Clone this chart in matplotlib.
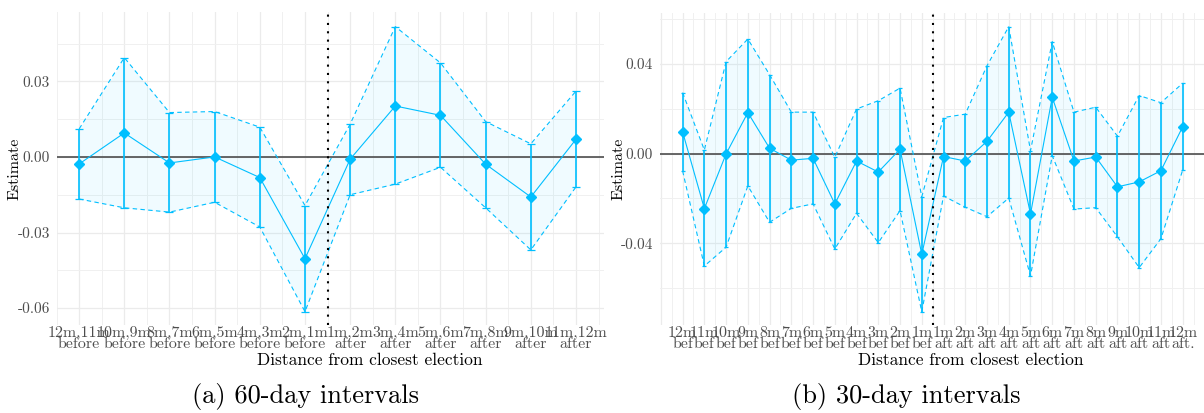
import numpy as np
import matplotlib
matplotlib.use("Agg")
import matplotlib.pyplot as plt

plt.rcParams['font.family'] = ['cmr10', 'DejaVu Serif']
plt.rcParams['axes.formatter.use_mathtext'] = True

# ---- data: 60-day intervals (panel a) ----
labels_60 = ["12m,11m\nbefore", "10m,9m\nbefore", "8m,7m\nbefore", "6m,5m\nbefore",
             "4m,3m\nbefore", "2m,1m\nbefore", "1m,2m\nafter", "3m,4m\nafter",
             "5m,6m\nafter", "7m,8m\nafter", "9m,10m\nafter", "11m,12m\nafter"]
est_60 = [-0.0028, 0.0095, -0.0024, 0.0000, -0.0082, -0.0404,
          -0.0009, 0.0202, 0.0165, -0.0029, -0.0159, 0.0070]
upper_60 = [0.0111, 0.0394, 0.0176, 0.0180, 0.0118, -0.0193,
            0.0130, 0.0517, 0.0373, 0.0140, 0.0052, 0.0261]
lower_60 = [-0.0167, -0.0202, -0.0219, -0.0180, -0.0278, -0.0614,
            -0.0150, -0.0108, -0.0041, -0.0202, -0.0369, -0.0119]

# ---- data: 30-day intervals (panel b) ----
labels_30 = ["12m\nbef", "11m\nbef", "10m\nbef", "9m\nbef", "8m\nbef", "7m\nbef",
             "6m\nbef", "5m\nbef", "4m\nbef", "3m\nbef", "2m\nbef", "1m\nbef",
             "1m\naft", "2m\naft", "3m\naft", "4m\naft", "5m\naft", "6m\naft",
             "7m\naft", "8m\naft", "9m\naft", "10m\naft", "11m\naft", "12m\naft."]
est_30 = [0.0097, -0.0245, -0.0001, 0.0183, 0.0024, -0.0029, -0.0021, -0.0224,
          -0.0033, -0.0082, 0.0020, -0.0449, -0.0013, -0.0033, 0.0055, 0.0185,
          -0.0269, 0.0251, -0.0033, -0.0015, -0.0148, -0.0126, -0.0076, 0.0120]
upper_30 = [0.0272, 0.0016, 0.0410, 0.0511, 0.0352, 0.0185, 0.0185, -0.0016,
            0.0199, 0.0236, 0.0292, -0.0192, 0.0161, 0.0176, 0.0392, 0.0566,
            0.0013, 0.0499, 0.0185, 0.0207, 0.0078, 0.0259, 0.0227, 0.0314]
lower_30 = [-0.0077, -0.0501, -0.0417, -0.0144, -0.0306, -0.0244, -0.0224, -0.0425,
            -0.0266, -0.0397, -0.0254, -0.0705, -0.0189, -0.0239, -0.0281, -0.0198,
            -0.0545, -0.0009, -0.0247, -0.0241, -0.0371, -0.0508, -0.0379, -0.0073]

BLUE = '#00BFFF'
GRID = '#EBEBEB'
TICKC = '#4D4D4D'

W, H = 1204, 413
fig = plt.figure(figsize=(W / 100, H / 100), dpi=100)
ax1 = fig.add_axes([57 / W, 1 - 325 / H, (604 - 57) / W, (325 - 12) / H])
ax2 = fig.add_axes([660 / W, 1 - 325 / H, (1204 - 660) / W, (325 - 13) / H])


def panel(ax, labels, est, upper, lower, xlim, ylim, yticks, yminor, xmajor, xminor,
          capsize, vline, ylab_x):
    x = np.arange(len(labels))
    for s in ax.spines.values():
        s.set_visible(False)
    ax.set_xlim(*xlim)
    ax.set_ylim(*ylim)
    # grid
    for v in xminor:
        ax.axvline(v, color='#F0F0F0', lw=0.7, zorder=0)
    for v in xmajor:
        ax.axvline(v, color=GRID, lw=0.9, zorder=0)
    for v in yminor:
        ax.axhline(v, color='#F0F0F0', lw=0.7, zorder=0)
    for v in yticks:
        ax.axhline(v, color=GRID, lw=0.9, zorder=0)

    ax.fill_between(x, lower, upper, color=BLUE, alpha=0.06, lw=0, zorder=1)
    ax.axhline(0, color='#4D4D4D', lw=1.2, zorder=2)
    ax.plot(x, upper, color=BLUE, lw=0.8, dashes=(4, 3), zorder=3)
    ax.plot(x, lower, color=BLUE, lw=0.8, dashes=(4, 3), zorder=3)
    err = [np.array(est) - np.array(lower), np.array(upper) - np.array(est)]
    ax.errorbar(x, est, yerr=err, fmt='none', ecolor=BLUE, elinewidth=1.2,
                capsize=capsize, capthick=0.9, zorder=4)
    ax.plot(x, est, color=BLUE, lw=0.8, marker='D', ms=5, zorder=5)
    ax.axvline(vline, color='black', lw=1.5, linestyle=(0, (1, 3)), zorder=6)

    ax.set_xticks(x)
    ax.set_xticklabels(labels, fontsize=11.5, color=TICKC, linespacing=0.7)
    ax.set_yticks(yticks)
    ax.set_yticklabels(['%.2f' % v if v >= 0 else '-%.2f' % abs(v) for v in yticks],
                       fontsize=11, color=TICKC)
    ax.tick_params(axis='both', length=0)
    ax.tick_params(axis='x', pad=1)
    ax.tick_params(axis='y', pad=5)
    ax.set_ylabel('Estimate', fontsize=11.5)
    ax.yaxis.set_label_coords(ylab_x, 0.5)
    ax.text(0.572, -0.128, 'Distance from closest election', transform=ax.transAxes,
            ha='center', va='baseline', fontsize=12.5)


panel(ax1, labels_60, est_60, upper_60, lower_60,
      xlim=(-0.49, 11.62), ylim=(-0.0667, 0.0575),
      yticks=[-0.06, -0.03, 0.0, 0.03], yminor=[-0.045, -0.015, 0.015, 0.045],
      xmajor=np.arange(0, 12), xminor=np.arange(-0.5, 12, 1),
      capsize=3, vline=5.5, ylab_x=-0.064)

panel(ax2, labels_30, est_30, upper_30, lower_30,
      xlim=(-1.04, 23.98), ylim=(-0.0764, 0.0627),
      yticks=[-0.04, 0.0, 0.04], yminor=[-0.06, -0.02, 0.02, 0.06],
      xmajor=np.arange(-1, 24), xminor=np.arange(-0.5, 24, 1),
      capsize=1.5, vline=11.5, ylab_x=-0.063)

fig.text(306 / W, 1 - 403 / H, '(a) 60-day intervals', ha='center', va='baseline', fontsize=19)
fig.text(906 / W, 1 - 403 / H, '(b) 30-day intervals', ha='center', va='baseline', fontsize=19)

fig.savefig('out.png', dpi=100)
